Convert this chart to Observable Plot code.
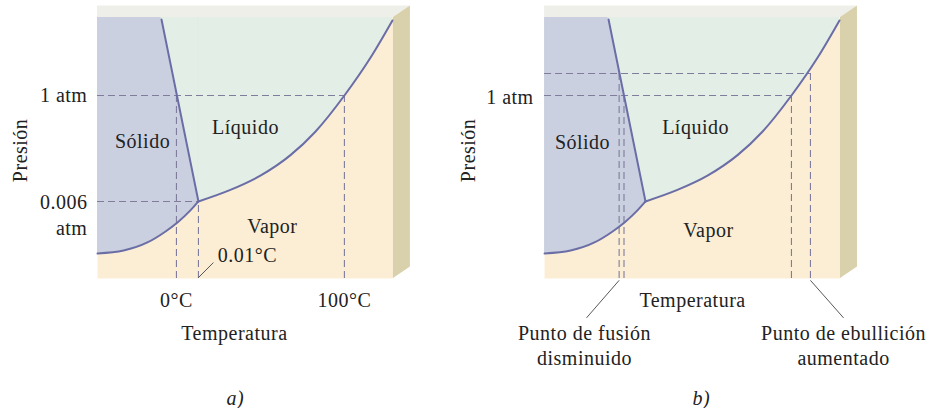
<!DOCTYPE html>
<html>
<head>
<meta charset="utf-8">
<script src="https://cdn.jsdelivr.net/npm/d3@7"></script>
<script src="https://cdn.jsdelivr.net/npm/@observablehq/plot@0.6"></script>
<style>
  html, body { margin: 0; padding: 0; background: #ffffff; }
  #chart { width: 942px; height: 408px; }
</style>
</head>
<body>
<div id="chart"></div>
<script>
// ---- schematic phase-diagram data (temperature in °C-like schematic units, pressure in atm-like schematic units)
const panels = ["a", "b"];
const plotT = [-47, 129.2];          // extent of the drawn diagram (temperature)
const plotP = [0, 1.426];            // extent of the drawn diagram (pressure)

// sublimation curve (solid / vapor)
const sublimationT = [-47, -31.5, -17.3, -6.5, 0.6, 8.3, 13.1];
const sublimationP = [0.137, 0.153, 0.197, 0.257, 0.306, 0.372, 0.421];
// vaporization curve (liquid / vapor)
const vaporT = [13.1, 32.1, 50.0, 67.9, 82.7, 100, 115.5, 128.6];
const vaporP = [0.421, 0.484, 0.562, 0.674, 0.802, 1.0, 1.206, 1.41];
// fusion line (solid / liquid)
const fusionT = [-8.9, 13.1];
const fusionP = [1.415, 0.421];

// reference dashed lines: panel, temperature, pressure
const hDashPanel = ["a", "a", "b", "b"];
const hDashT = [100, 13.1, 100, 111.3];
const hDashP = [1, 0.421, 1, 1.12];
const vDashPanel = ["a", "a", "a", "b", "b", "b", "b"];
const vDashT = [0, 13.1, 100, -2.6, 0.3, 100, 111.3];
const vDashP = [1, 0.421, 1, 1.12, 1, 1, 1.12];

// leader lines
const leaderPanel = ["a", "b", "b"];
const leaderT1 = [13.1, -2.6, 111.3];
const leaderP1 = [0.005, -0.01, -0.01];
const leaderT2 = [22, -22, 131];
const leaderP2 = [0.087, -0.215, -0.215];

// tick-like labels
const endLabelPanel = ["a", "a", "a", "b"];
const endLabelText = ["1 atm", "0.006", "atm", "1 atm"];
const endLabelT = [-53, -53, -53, -53.5];
const endLabelP = [1.0, 0.415, 0.273, 0.99];

// centred labels
const labelPanel = ["a", "a", "a", "a", "a", "a", "a", "b", "b", "b", "b", "b", "b", "b", "b"];
const labelText = ["Sólido", "Líquido", "Vapor", "0.01°C", "0°C", "100°C", "Temperatura",
                   "Sólido", "Líquido", "Vapor", "Temperatura", "Punto de fusión", "disminuido",
                   "Punto de ebullición", "aumentado"];
const labelT = [-20.2, 41.1, 57.1, 42.3, 0, 100, 34.5,
                -24.4, 42.9, 50.6, 41.1, -23.2, -23.2, 131, 131];
const labelP = [0.749, 0.825, 0.284, 0.126, -0.12, -0.12, -0.30,
                0.743, 0.825, 0.262, -0.12, -0.30, -0.437, -0.30, -0.437];

const captionText = ["a)", "b)"];
const captionT = [35.1, 46.4];
const captionP = [-0.656, -0.656];

const axisTitleT = [-92.9, -92.3];
const axisTitleP = [0.70, 0.70];

// ---- build tables
const sub = sublimationT.map((t, i) => ({t, p: sublimationP[i]}));
const vap = vaporT.map((t, i) => ({t, p: vaporP[i]}));
const fus = fusionT.map((t, i) => ({t, p: fusionP[i]}));
const hDash = hDashT.map((t, i) => ({panel: hDashPanel[i], t, p: hDashP[i]}));
const vDash = vDashT.map((t, i) => ({panel: vDashPanel[i], t, p: vDashP[i]}));
const leaders = leaderT1.map((t, i) => ({panel: leaderPanel[i], t1: t, p1: leaderP1[i], t2: leaderT2[i], p2: leaderP2[i]}));
const endLabels = endLabelText.map((s, i) => ({panel: endLabelPanel[i], text: s, t: endLabelT[i], p: endLabelP[i]}));
const labels = labelText.map((s, i) => ({panel: labelPanel[i], text: s, t: labelT[i], p: labelP[i]}));
const captions = captionText.map((s, i) => ({panel: panels[i], text: s, t: captionT[i], p: captionP[i]}));
const axisTitles = panels.map((panel, i) => ({panel, text: "Presión", t: axisTitleT[i], p: axisTitleP[i]}));

// 3D slab: side face and top band
const slabDepthT = 10.1, slabDepthP = 0.063;
const sideFace = [
  {t: plotT[1], p1: plotP[0], p2: plotP[1]},
  {t: plotT[1] + slabDepthT, p1: plotP[0] + slabDepthP, p2: plotP[1] + slabDepthP}
];
const topFace = [
  {t: plotT[0], p1: plotP[1], p2: plotP[1] + slabDepthP},
  {t: plotT[1], p1: plotP[1], p2: plotP[1] + slabDepthP},
  {t: plotT[1] + slabDepthT, p1: plotP[1] + slabDepthP, p2: plotP[1] + slabDepthP}
];

const curveColor = "#6a6da6";
const dashColor = "#7f7c9c";

const chart = Plot.plot({
  width: 942,
  height: 408,
  marginLeft: 97,
  marginRight: 102,
  marginTop: 17,
  marginBottom: 130,
  fx: {domain: panels, paddingInner: 0.338, paddingOuter: 0, round: false, axis: null, label: null},
  x: {domain: plotT, axis: null},
  y: {domain: plotP, axis: null},
  style: "font-family: 'Liberation Serif', 'DejaVu Serif', serif; font-size: 20px; letter-spacing: 0.5px; color: #222; background: white; overflow: visible;",
  marks: [
    Plot.frame({fill: "#fbeed5", stroke: "none"}),
    Plot.areaY(sub, {x: "t", y1: "p", y2: plotP[1], fill: "#cad0e0", curve: "monotone-x"}),
    Plot.areaY(vap, {x: "t", y1: "p", y2: plotP[1], fill: "#e2eee6", curve: "monotone-x"}),
    Plot.areaY(fus, {x: "t", y1: "p", y2: plotP[1], fill: "#e2eee6", stroke: "#e2eee6", strokeWidth: 0.5}),
    Plot.areaY(topFace, {x: "t", y1: "p1", y2: "p2", fill: "#efefea"}),
    Plot.areaY(sideFace, {x: "t", y1: "p1", y2: "p2", fill: "#d9d1ab"}),
    Plot.ruleY(hDash, {fx: "panel", y: "p", x1: plotT[0], x2: "t", stroke: dashColor, strokeWidth: 1.1, strokeDasharray: "7,4"}),
    Plot.ruleX(vDash, {fx: "panel", x: "t", y1: plotP[0], y2: "p", stroke: dashColor, strokeWidth: 1.1, strokeDasharray: "7,4"}),
    Plot.line(sub, {x: "t", y: "p", stroke: curveColor, strokeWidth: 2, curve: "monotone-x"}),
    Plot.line(vap, {x: "t", y: "p", stroke: curveColor, strokeWidth: 2, curve: "monotone-x"}),
    Plot.line(fus, {x: "t", y: "p", stroke: curveColor, strokeWidth: 2}),
    Plot.link(leaders, {fx: "panel", x1: "t1", y1: "p1", x2: "t2", y2: "p2", stroke: "#444", strokeWidth: 0.9}),
    Plot.text(endLabels, {fx: "panel", x: "t", y: "p", text: "text", textAnchor: "end", fill: "#222"}),
    Plot.text(labels, {fx: "panel", x: "t", y: "p", text: "text", fill: "#222"}),
    Plot.text(captions, {fx: "panel", x: "t", y: "p", text: "text", fill: "#222", fontStyle: "italic"}),
    Plot.text(axisTitles, {fx: "panel", x: "t", y: "p", text: "text", fill: "#222", rotate: -90})
  ]
});
document.getElementById("chart").appendChild(chart);
</script>
</body>
</html>
